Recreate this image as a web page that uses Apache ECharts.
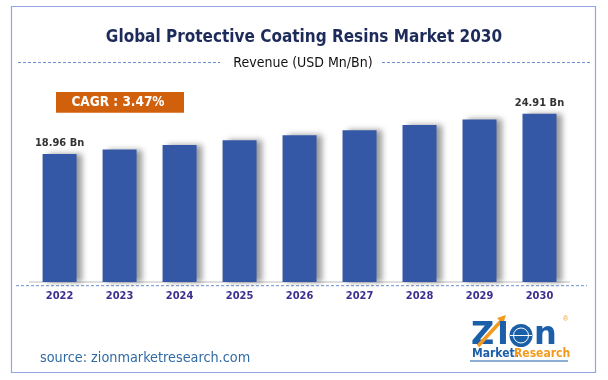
<!DOCTYPE html>
<html>
<head>
<meta charset="utf-8">
<script src="https://cdn.jsdelivr.net/npm/echarts@6/dist/echarts.min.js"></script>
<style>
html,body{margin:0;padding:0;background:#fff;}
#chart{width:608px;height:380px;}
</style>
</head>
<body>
<div id="chart"></div>
<script>
const years = ['2022','2023','2024','2025','2026','2027','2028','2029','2030'];
const revenue = [18.96, 19.62, 20.30, 21.01, 21.74, 22.49, 23.27, 24.08, 24.91];
const labelledIdx = [0, 8];
const titleText = 'Global Protective Coating Resins Market 2030';
const subtitleText = 'Revenue (USD Mn/Bn)';
const cagrText = 'CAGR : 3.47%';
const sourceText = 'source: zionmarketresearch.com';

const FN = "'Liberation Sans Narrow','DejaVu Sans Condensed',sans-serif";
const chart = echarts.init(document.getElementById('chart'), null, {renderer:'canvas'});

const seriesData = revenue.map((v, i) => ({
  value: v,
  label: { show: labelledIdx.includes(i) }
}));

chart.setOption({
  animation: false,
  backgroundColor: '#fff',
  grid: { left: 29.6, right: 38.5, top: 79.5, bottom: 98 },
  xAxis: {
    type: 'category',
    data: years,
    axisLine: { lineStyle: { color: '#d4d4d4', width: 1.5 } },
    axisTick: { show: false },
    axisLabel: { color: '#3b2f8f', fontWeight: 'bold', fontSize: 11, fontFamily: FN, margin: 9 }
  },
  yAxis: { type: 'value', min: 0, max: 30, show: false, splitLine: { show: false } },
  series: [{
    type: 'bar',
    data: seriesData,
    barWidth: 34,
    itemStyle: {
      color: '#3457a6',
      shadowColor: 'rgba(0,0,0,0.4)',
      shadowBlur: 6,
      shadowOffsetX: 5,
      shadowOffsetY: 0
    },
    label: {
      position: 'top',
      distance: 5,
      color: '#333',
      fontSize: 11,
      fontWeight: 'bold',
      fontFamily: FN,
      formatter: p => p.value.toFixed(2) + ' Bn'
    }
  }],
  graphic: [
    { type: 'rect', shape: { x: 11.5, y: 6.5, width: 584, height: 366 }, style: { fill: 'none', stroke: '#93a5e3', lineWidth: 1.2 }, silent: true },
    { type: 'text', x: 304, y: 37.5, style: { text: titleText, fill: '#1c2b5a', font: "bold 17px " + FN, textAlign: 'center', textVerticalAlign: 'middle' } },
    { type: 'line', shape: { x1: 18, y1: 62.5, x2: 220, y2: 62.5 }, style: { stroke: '#6a8fd0', lineWidth: 1, lineDash: [3, 2] } },
    { type: 'line', shape: { x1: 382, y1: 62.5, x2: 592, y2: 62.5 }, style: { stroke: '#6a8fd0', lineWidth: 1, lineDash: [3, 2] } },
    { type: 'text', x: 303, y: 63.5, style: { text: subtitleText, fill: '#111', font: "14px " + FN, textAlign: 'center', textVerticalAlign: 'middle' } },
    { type: 'rect', shape: { x: 56, y: 92, width: 128, height: 20.7 }, style: { fill: '#d1600d' } },
    { type: 'text', x: 118, y: 102.5, style: { text: cagrText, fill: '#fff', font: "bold 13.5px " + FN, textAlign: 'center', textVerticalAlign: 'middle' } },
    { type: 'line', shape: { x1: 16, y1: 285.7, x2: 587, y2: 285.7 }, style: { stroke: '#6a8fd0', lineWidth: 1, lineDash: [3, 2] } },
    { type: 'text', x: 40, y: 358, style: { text: sourceText, fill: '#2f6aa5', font: "14.3px " + FN, textVerticalAlign: 'middle' } },
    // logo
    { type: 'text', x: 471, y: 336, style: { text: 'Z', fill: '#1b5fa8', font: "bold 32px 'DejaVu Sans',sans-serif", textVerticalAlign: 'middle' } },
    { type: 'line', shape: { x1: 478, y1: 346, x2: 502, y2: 320 }, style: { stroke: '#f39a1e', lineWidth: 3.5 } },
    { type: 'polygon', shape: { points: [[497, 318], [506, 315], [503, 324]] }, style: { fill: '#f39a1e' } },
    { type: 'text', x: 497, y: 336, style: { text: 'I', fill: '#1b5fa8', font: "bold 32px 'DejaVu Sans',sans-serif", textVerticalAlign: 'middle' } },
    { type: 'circle', shape: { cx: 521, cy: 335.5, r: 11.5 }, style: { fill: '#1b5fa8' } },
    { type: 'circle', shape: { cx: 521, cy: 335.5, r: 7.5 }, style: { fill: 'none', stroke: '#fff', lineWidth: 1 } },
    { type: 'line', shape: { x1: 510, y1: 335.5, x2: 532, y2: 335.5 }, style: { stroke: '#fff', lineWidth: 1 } },
    { type: 'text', x: 534, y: 336, style: { text: 'n', fill: '#1b5fa8', font: "bold 32px 'DejaVu Sans',sans-serif", textVerticalAlign: 'middle' } },
    { type: 'text', x: 563, y: 319, style: { text: '®', fill: '#f39a1e', font: "7px sans-serif", textVerticalAlign: 'middle' } },
    { type: 'text', x: 472, y: 354, style: { text: 'Market.', fill: '#1b5fa8', font: "bold 12px 'DejaVu Sans Condensed',sans-serif", textVerticalAlign: 'middle' } },
    { type: 'text', x: 514, y: 354, style: { text: 'Research', fill: '#f39a1e', font: "bold 12px 'DejaVu Sans Condensed',sans-serif", textVerticalAlign: 'middle' } },
    { type: 'line', shape: { x1: 470, y1: 361, x2: 568, y2: 361 }, style: { stroke: '#1b5fa8', lineWidth: 1 } }
  ]
});
</script>
</body>
</html>
